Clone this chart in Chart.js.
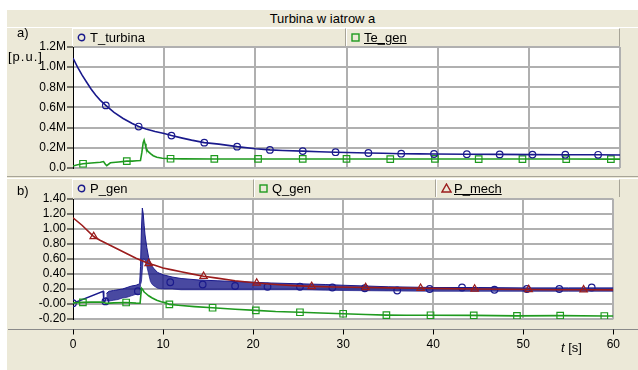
<!DOCTYPE html>
<html><head><meta charset="utf-8">
<script src="https://cdn.jsdelivr.net/npm/chart.js@4.4.1/dist/chart.umd.min.js"></script>
<style>
html,body{margin:0;padding:0;background:#fff;}
body{width:638px;height:370px;position:relative;overflow:hidden;font-family:"Liberation Sans",Arial,sans-serif;color:#000;}
.abs{position:absolute;}
#frame{left:7px;top:10px;width:631px;height:360px;background:#ECE9D8;}
#title{left:7px;top:10px;width:631px;height:17px;line-height:17px;text-align:center;font-size:13px;}
.wline{height:1px;background:#fff;}
.gline{height:1px;background:#a7a497;}
.cell{height:18px;box-sizing:border-box;border-top:1px solid #fff;border-left:1px solid #fff;border-right:1px solid #a7a497;z-index:3;font-size:13px;}
.cell svg{position:absolute;top:4px;}
.cell span{position:absolute;top:0;line-height:17px;white-space:nowrap;}
.u{text-decoration:underline;}
canvas{position:absolute;left:0;z-index:2;}
.lbl{font-size:13px;z-index:4;}
</style></head>
<body>
<div id="frame" class="abs"></div>
<div id="title" class="abs">Turbina w iatrow a</div>
<div class="abs wline" style="left:7px;top:27px;width:631px;"></div>

<canvas id="ca" width="638" height="148" style="top:28px;"></canvas>
<canvas id="cb" width="638" height="192" style="top:178px;"></canvas>

<div class="abs cell" style="left:72px;top:28px;width:274px;">
  <svg width="9" height="9" style="left:4px"><circle cx="4.5" cy="4.5" r="3.2" fill="none" stroke="#1a1a8c" stroke-width="1.4"/></svg>
  <span style="left:17px">T_turbina</span></div>
<div class="abs cell" style="left:346px;top:28px;width:274px;">
  <svg width="9" height="9" style="left:4px"><rect x="1" y="1" width="7" height="7" fill="none" stroke="#1f9a1f" stroke-width="1.4"/></svg>
  <span class="u" style="left:17px">Te_gen</span></div>

<div class="abs gline" style="left:7px;top:176px;width:631px;"></div>
<div class="abs wline" style="left:7px;top:178px;width:631px;"></div>

<div class="abs cell" style="left:72px;top:179px;width:182px;">
  <svg width="9" height="9" style="left:4px"><circle cx="4.5" cy="4.5" r="3.2" fill="none" stroke="#1a1a8c" stroke-width="1.4"/></svg>
  <span style="left:17px">P_gen</span></div>
<div class="abs cell" style="left:254px;top:179px;width:182px;">
  <svg width="9" height="9" style="left:4px"><rect x="1" y="1" width="7" height="7" fill="none" stroke="#1f9a1f" stroke-width="1.4"/></svg>
  <span style="left:17px">Q_gen</span></div>
<div class="abs cell" style="left:436px;top:179px;width:184px;">
  <svg width="11" height="10" style="left:4px;top:3px"><polygon points="5.5,1 10,9 1,9" fill="none" stroke="#9b1c1c" stroke-width="1.4"/></svg>
  <span class="u" style="left:17px">P_mech</span></div>

<div class="abs lbl" style="left:17px;top:25px;">a)</div>
<div class="abs lbl" style="left:8px;top:49px;letter-spacing:1px;">[p.u.]</div>
<div class="abs lbl" style="left:17px;top:183px;">b)</div>
<div class="abs lbl" style="left:561px;top:340px;"><i>t</i> [s]</div>

<script>
// ---------- data ----------
const X_TICKS = [0,10,20,30,40,50,60];

// panel a) T_turbina
const TT_T = [0,0.5,1,1.5,2,2.5,3,3.6,4.5,5.5,6.5,7.2,8,9,10,10.8,12,13,14.4,16,18,20,21.6,23,25.2,27,28.8,30,32.4,34,36,38,39.6,43.2,46.8,50.4,54,57.6,60];
const TT_V = [1.09,1.0,0.92,0.85,0.78,0.72,0.67,0.62,0.55,0.49,0.44,0.41,0.385,0.36,0.34,0.32,0.295,0.275,0.25,0.235,0.21,0.19,0.178,0.172,0.166,0.16,0.155,0.152,0.147,0.144,0.14,0.138,0.137,0.135,0.133,0.131,0.13,0.129,0.127];
const TT_MARKS = [3.6,7.2,10.8,14.4,18,21.6,25.2,28.8,32.4,36,39.6,43.2,46.8,50.4,54,57.6];

// panel a) Te_gen
const TE_T = [0,0.5,1.1,2,3,3.35,3.55,3.7,4.1,5,5.9,6.5,7.0,7.4,7.55,7.7,7.8,7.9,8.0,8.2,8.5,8.8,9.2,9.8,10.7,12,15.5,20.3,25.2,30,34.8,39.7,44.5,49.3,54.1,59,60];
const TE_V = [0.018,0.03,0.04,0.048,0.055,0.062,0.035,0.022,0.05,0.058,0.066,0.066,0.07,0.072,0.15,0.25,0.275,0.24,0.2,0.165,0.14,0.12,0.105,0.095,0.09,0.089,0.088,0.088,0.088,0.088,0.087,0.088,0.087,0.087,0.087,0.086,0.086];
const TE_MARKS = [1.1,5.9,10.7,15.5,20.3,25.2,30,34.8,39.7,44.5,49.3,54.1,59];

// panel b) P_mech
const PM_T = [0,1,2.3,3,4,5,6,7,8,8.4,9,10,11,12,13,14.5,16,18,20.4,22.5,24.5,26.5,29,32.5,35.5,38.6,41.5,44.6,47.5,50.6,53.5,56.7,60];
const PM_V = [1.15,1.05,0.9,0.85,0.79,0.73,0.67,0.61,0.56,0.54,0.52,0.48,0.455,0.43,0.405,0.37,0.345,0.31,0.28,0.26,0.245,0.235,0.227,0.22,0.215,0.21,0.205,0.2,0.197,0.193,0.19,0.19,0.188];
const PM_MARKS = [2.3,8.4,14.5,20.4,26.5,32.5,38.6,44.6,50.6,56.7];

// panel b) Q_gen
const QG_T = [0,1.1,2,3,3.45,3.7,4.5,5.9,7,7.45,7.6,7.75,7.9,8.1,8.4,8.8,9.3,9.8,10.3,10.7,12,13.5,15.5,18,20.3,22.5,25.2,27.5,30,32.5,34.8,37,39.7,44.5,49.3,54.1,59,60];
const QG_V = [0.015,0.022,0.025,0.025,0.02,0.008,0.015,0.02,0.012,0.01,0.21,0.19,0.16,0.14,0.11,0.08,0.05,0.03,0.015,-0.005,-0.02,-0.035,-0.05,-0.07,-0.085,-0.1,-0.11,-0.12,-0.13,-0.14,-0.148,-0.15,-0.15,-0.152,-0.158,-0.155,-0.16,-0.16];
const QG_MARKS = [1.1,5.9,10.7,15.5,20.3,25.2,30,34.8,39.7,44.5,49.3,54.1,59];

// panel b) P_gen: start segment, oscillation band (upper / lower envelope), markers
const PG_T = [0,3.35,3.42,3.55,3.7];
const PG_V = [0.01,0.17,0.03,0.035,0.09];
const PGB_T  = [3.7,4,4.5,5,5.5,6,6.5,7,7.4,7.5,7.6,7.7,7.8,7.9,8,8.2,8.4,8.6,8.8,9,9.4,10,11,12,14,16,18,20,22,25,28,30,35,40,45,50,55,60];
const PGB_HI = [0.14,0.17,0.18,0.19,0.2,0.22,0.24,0.25,0.27,0.5,1.0,1.28,1.2,1.05,0.92,0.75,0.62,0.54,0.5,0.47,0.42,0.39,0.36,0.34,0.32,0.31,0.3,0.29,0.28,0.27,0.26,0.25,0.23,0.22,0.22,0.215,0.215,0.215];
const PGB_LO = [0.04,0.04,0.05,0.06,0.08,0.09,0.11,0.13,0.14,0.26,0.3,0.45,0.6,0.6,0.58,0.5,0.4,0.3,0.26,0.24,0.21,0.2,0.2,0.19,0.19,0.19,0.19,0.19,0.19,0.19,0.185,0.18,0.175,0.17,0.17,0.17,0.17,0.17];
const PGM_T = [0,3.6,7.2,10.8,14.4,18,21.6,25.2,28.8,32.4,36,39.6,43.2,46.8,50.4,54,57.6];
const PGM_V = [0.01,0.035,0.17,0.29,0.26,0.24,0.23,0.23,0.22,0.21,0.18,0.2,0.22,0.19,0.2,0.2,0.22];

// ---------- rendering ----------
const NAVY = '#1a1a8c', GREEN = '#1f9a1f', RED = '#9b1c1c', GRID = '#b0b0b0';
const MARK_R = {circle: 3.3, rect: 4.6, triangle: 4.3};
Chart.defaults.font.family = '"Liberation Sans", Arial, sans-serif';
Chart.defaults.font.size = 12;
Chart.defaults.color = '#000';

const pts = (T, V) => T.map((t, i) => ({x: t, y: V[i]}));
const markR = (marks, r) => ctx => (ctx.raw && marks.includes(ctx.raw.x)) ? r : 0;

const whiteBg = {
  id: 'whiteBg',
  beforeDraw(chart) {
    const {ctx, chartArea: a} = chart;
    ctx.save(); ctx.fillStyle = '#fff';
    ctx.fillRect(a.left, a.top, a.right - a.left, a.bottom - a.top);
    ctx.restore();
  }
};
const axisLine = {
  id: 'axisLine',
  afterDraw(chart) {
    const {ctx, chartArea, scales} = chart;
    const y = Math.round(chartArea.bottom) + 10.5;
    ctx.save();
    ctx.lineWidth = 1; ctx.strokeStyle = '#8a8a8a';
    ctx.beginPath(); ctx.moveTo(8, y); ctx.lineTo(638, y); ctx.stroke();
    ctx.strokeStyle = '#000';
    X_TICKS.forEach(v => {
      const x = Math.round(scales.x.getPixelForValue(v)) + 0.5;
      ctx.beginPath(); ctx.moveTo(x, y); ctx.lineTo(x, y + 5); ctx.stroke();
    });
    ctx.restore();
  }
};

function lineDs(T, V, color, marks, style) {
  return {
    data: pts(T, V), borderColor: color, borderWidth: 1.6, tension: 0,
    pointRadius: markR(marks, MARK_R[style]), pointStyle: style, pointBorderColor: color,
    pointBackgroundColor: 'rgba(0,0,0,0)', pointBorderWidth: 1.2, fill: false
  };
}

function xScale(showLabels) {
  return {
    type: 'linear', min: 0, max: 60,
    ticks: {display: showLabels, stepSize: 10, padding: 18, maxRotation: 0, autoSkip: false, font: {size: 12}},
    grid: {drawTicks: false, lineWidth: 2,
      color: c => (c.tick && c.tick.value === 0) ? 'rgba(0,0,0,0)' : GRID},
    border: {display: false},
    afterFit: s => { s.height = showLabels ? 51 : 0; }
  };
}
function yScale(min, max, fmt) {
  return {
    type: 'linear', min, max,
    ticks: {stepSize: 0.2, padding: 1, autoSkip: false, callback: fmt, font: {size: 12}},
    grid: {lineWidth: 2, color: GRID, drawTicks: true, tickLength: 6, tickColor: '#000', tickWidth: 1},
    border: {display: true, color: '#000', width: 1},
    afterFit: s => { s.width = 73; }
  };
}
const baseOpts = {
  responsive: false, animation: false, devicePixelRatio: 1,
  plugins: {legend: {display: false}, tooltip: {enabled: false}},
  parsing: true, normalized: true
};

new Chart(document.getElementById('ca'), {
  type: 'line',
  data: {datasets: [
    lineDs(TT_T, TT_V, NAVY, TT_MARKS, 'circle'),
    lineDs(TE_T, TE_V, GREEN, TE_MARKS, 'rect')
  ]},
  options: Object.assign({}, baseOpts, {
    layout: {padding: {top: 19, right: 18, bottom: 7, left: 0}},
    scales: {
      x: xScale(false),
      y: yScale(0, 1.2, v => Math.abs(v) < 1e-9 ? '0.0' : v.toFixed(1) + 'M')
    }
  }),
  plugins: [whiteBg]
});

new Chart(document.getElementById('cb'), {
  type: 'line',
  data: {datasets: [
    lineDs(PM_T, PM_V, RED, PM_MARKS, 'triangle'),
    lineDs(QG_T, QG_V, GREEN, QG_MARKS, 'rect'),
    {data: pts(PGM_T, PGM_V), showLine: false, pointRadius: MARK_R.circle, pointStyle: 'circle',
     pointBorderColor: NAVY, pointBackgroundColor: 'rgba(0,0,0,0)', pointBorderWidth: 1.2},
    {data: pts(PG_T, PG_V), borderColor: NAVY, borderWidth: 1.4, pointRadius: 0, fill: false},
    {data: pts(PGB_T, PGB_HI), borderColor: NAVY, borderWidth: 1, pointRadius: 0, fill: false},
    {data: pts(PGB_T, PGB_LO), borderColor: 'rgba(26,26,140,0.7)', borderWidth: 1, pointRadius: 0,
     fill: {target: 4}, backgroundColor: 'rgba(28,28,138,0.8)'}
  ]},
  options: Object.assign({}, baseOpts, {
    layout: {padding: {top: 21, right: 18, bottom: 0, left: 0}},
    scales: {
      x: xScale(true),
      y: yScale(-0.2, 1.4, v => v.toFixed(2))
    }
  }),
  plugins: [whiteBg, axisLine]
});
</script>
</body></html>
